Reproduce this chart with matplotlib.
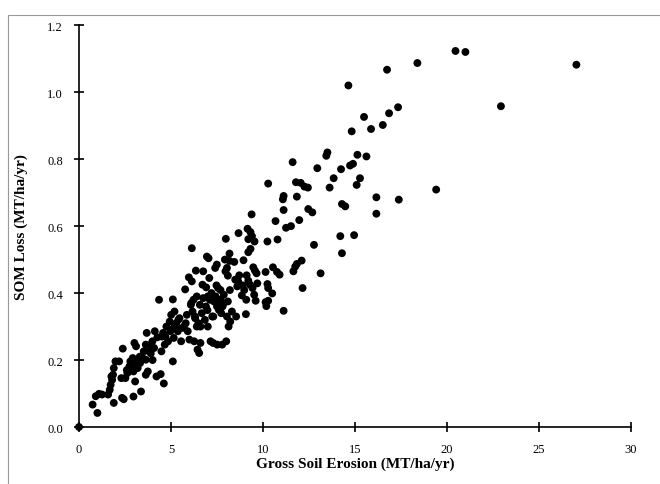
import numpy as np
import matplotlib
matplotlib.use('Agg')
import matplotlib.pyplot as plt
from matplotlib.patches import Rectangle

# gross soil erosion (MT/ha/yr) and SOM loss (MT/ha/yr)
erosion = [0.0,
    0.74, 1.0, 0.91, 1.09, 1.25, 1.58, 1.67, 1.72, 1.76, 1.85, 1.8, 1.89, 1.98, 2.18, 1.89,
    2.34, 2.43, 2.38, 2.3, 2.52, 2.63, 2.74, 2.79, 2.92, 2.85, 2.96, 3.01, 3.1, 3.14, 3.05,
    2.96, 3.19, 3.32, 3.41, 3.37, 3.52, 3.63, 3.68, 3.63, 3.74, 3.63, 3.81, 3.9, 3.99, 4.08,
    4.12, 4.21, 4.26, 4.35, 4.44, 4.48, 4.57, 4.61, 4.66, 4.75, 4.84, 4.93, 4.97, 5.01, 5.1,
    5.1, 5.15, 5.19, 5.28, 5.37, 5.46, 5.55, 5.64, 5.77, 5.86, 5.91, 5.97, 6.0, 6.08, 6.13,
    6.13, 6.17, 6.22, 6.26, 6.31, 6.35, 6.4, 6.44, 6.49, 6.53, 6.57, 6.6, 6.67, 6.71, 6.75,
    6.75, 6.84, 6.91, 6.95, 6.98, 7.04, 7.08, 7.11, 7.15, 7.2, 7.24, 7.29, 7.33, 7.4, 7.42,
    7.47, 7.49, 7.51, 7.56, 7.6, 7.65, 7.69, 7.73, 7.78, 7.82, 7.87, 7.93, 7.96, 7.98, 8.0,
    8.04, 8.04, 8.09, 8.09, 8.13, 8.18, 8.18, 8.2, 8.22, 8.31, 8.44, 8.49, 8.54, 8.65, 8.67,
    8.71, 8.85, 8.89, 8.94, 8.98, 9.07, 9.09, 9.11, 9.16, 9.2, 9.2, 9.2, 9.29, 9.32, 9.32,
    9.38, 9.4, 9.43, 9.47, 9.52, 9.54, 9.56, 9.6, 9.65, 9.69, 10.14, 10.14, 10.18, 10.24, 10.24,
    10.28, 10.28, 10.28, 10.5, 10.54, 10.68, 10.76, 10.79, 10.9, 11.12, 11.12, 11.08, 11.12, 11.25, 11.52,
    11.61, 11.65, 11.75, 11.79, 11.84, 11.84, 11.97, 12.05, 12.1, 12.15, 12.25, 12.44, 12.46, 12.68, 12.77,
    12.95, 13.13,
    20.46, 21.0, 27.03, 18.39, 16.74, 14.64, 22.93, 17.34, 16.85, 15.49, 16.51, 15.87, 14.82,
    13.5, 13.44, 15.13, 15.62, 14.89, 14.73, 14.24, 13.84, 15.27, 15.09, 13.62, 19.41, 16.16,
    17.38, 14.29, 14.47, 16.16, 14.2, 14.95, 14.29,
    2.6, 3.3, 3.9, 4.5, 5.3, 5.7, 6.9, 7.3, 7.8, 8.6, 4.0, 5.0, 6.4, 7.0,
    5.4, 5.8, 6.1, 6.6, 7.0, 7.5, 5.2, 4.7, 6.3, 7.7]
som_loss = [0.0,
    0.067, 0.042, 0.092, 0.099, 0.097, 0.097, 0.111, 0.126, 0.151, 0.156, 0.141, 0.072, 0.196, 0.196, 0.176,
    0.087, 0.083, 0.234, 0.146, 0.146, 0.161, 0.181, 0.196, 0.206, 0.186, 0.166, 0.251, 0.241, 0.196, 0.136,
    0.091, 0.176, 0.191, 0.211, 0.106, 0.226, 0.246, 0.281, 0.201, 0.166, 0.156, 0.226, 0.246, 0.256, 0.236,
    0.286, 0.151, 0.268, 0.38, 0.158, 0.226, 0.281, 0.13, 0.246, 0.3, 0.256, 0.315, 0.286, 0.335, 0.381,
    0.196, 0.266, 0.345, 0.31, 0.286, 0.325, 0.256, 0.296, 0.411, 0.335, 0.286, 0.447, 0.261, 0.365, 0.534,
    0.435, 0.345, 0.38, 0.256, 0.325, 0.467, 0.39, 0.231, 0.31, 0.221, 0.365, 0.251, 0.34, 0.425, 0.465,
    0.385, 0.32, 0.417, 0.509, 0.349, 0.504, 0.445, 0.38, 0.256, 0.4, 0.33, 0.251, 0.375, 0.475, 0.39,
    0.423, 0.485, 0.246, 0.415, 0.35, 0.38, 0.409, 0.34, 0.246, 0.365, 0.395, 0.5, 0.465, 0.562, 0.256,
    0.475, 0.33, 0.452, 0.375, 0.3, 0.518, 0.496, 0.409, 0.315, 0.345, 0.493, 0.44, 0.33, 0.435, 0.579,
    0.453, 0.393, 0.423, 0.498, 0.409, 0.337, 0.38, 0.453, 0.592, 0.561, 0.522, 0.437, 0.425, 0.532, 0.582,
    0.635, 0.57, 0.415, 0.477, 0.395, 0.554, 0.467, 0.377, 0.459, 0.429, 0.463, 0.373, 0.361, 0.554, 0.427,
    0.727, 0.415, 0.377, 0.399, 0.477, 0.615, 0.463, 0.56, 0.455, 0.347, 0.648, 0.68, 0.69, 0.595, 0.6,
    0.791, 0.465, 0.479, 0.731, 0.688, 0.487, 0.618, 0.729, 0.497, 0.415, 0.718, 0.715, 0.651, 0.641, 0.544,
    0.773, 0.459,
    1.123, 1.12, 1.082, 1.087, 1.067, 1.02, 0.958, 0.955, 0.937, 0.926, 0.902, 0.89, 0.883,
    0.82, 0.81, 0.813, 0.808, 0.786, 0.781, 0.77, 0.743, 0.743, 0.723, 0.715, 0.709, 0.686,
    0.679, 0.666, 0.659, 0.637, 0.57, 0.573, 0.519,
    0.17, 0.21, 0.22, 0.27, 0.3, 0.3, 0.36, 0.33, 0.36, 0.42, 0.2, 0.29, 0.3, 0.3,
    0.32, 0.31, 0.37, 0.3, 0.39, 0.36, 0.3, 0.27, 0.33, 0.38]

fig = plt.figure(figsize=(6.6, 4.85), dpi=100)
# thin frame round the whole picture
fig.patches.append(Rectangle((0.012, -0.01), 0.99, 0.978, transform=fig.transFigure,
                             fill=False, edgecolor='#999999', linewidth=0.8))
ax = fig.add_axes([0.1197, 0.1175, 0.8364, 0.8285])
ax.scatter(erosion, som_loss, s=32, c='black', edgecolors='none', clip_on=False, zorder=3)

ax.set_xlim(0, 30)
ax.set_ylim(0, 1.2)
ax.set_xticks(np.arange(0, 31, 5))
ax.set_yticks(np.arange(0, 1.21, 0.2))
ax.set_yticklabels(['%.1f' % v for v in np.arange(0, 1.21, 0.2)])
for s in ['top', 'right']:
    ax.spines[s].set_visible(False)
for s in ['left', 'bottom']:
    ax.spines[s].set_linewidth(1.2)
ax.tick_params(direction='inout', length=7, width=1.2, labelsize=9, pad=8)
for lab in ax.get_xticklabels() + ax.get_yticklabels():
    lab.set_fontfamily('Liberation Serif')

ax.set_xlabel('Gross Soil Erosion (MT/ha/yr)', fontfamily='Liberation Serif',
              fontweight='bold', fontsize=11, labelpad=1)
ax.set_ylabel('SOM Loss (MT/ha/yr)', fontfamily='Liberation Serif',
              fontweight='bold', fontsize=11, labelpad=14)

fig.savefig('out.png', dpi=100)
